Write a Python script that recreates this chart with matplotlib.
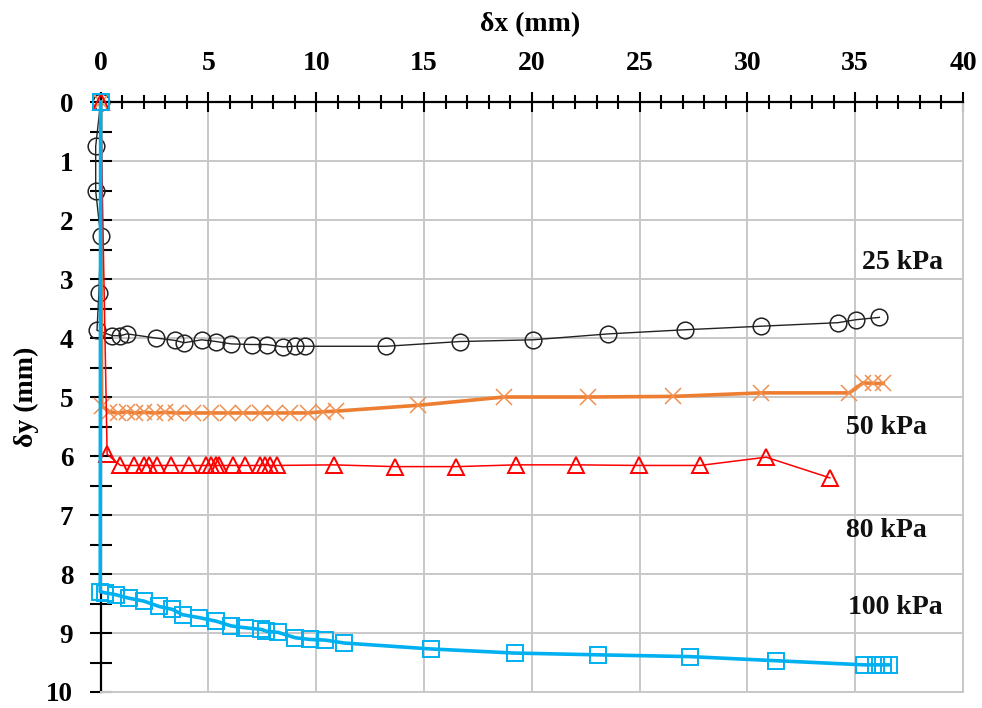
import matplotlib
matplotlib.use("Agg")
import matplotlib.pyplot as plt
from matplotlib.ticker import MultipleLocator

# ---- data ----
p25_x = [0, -0.23, -0.23, 0.0, -0.08, -0.17, 0.53, 0.92, 1.23, 2.55, 3.44, 3.88, 4.69, 5.36,
         6.06, 7.0, 7.7, 8.47, 9.02, 9.49, 13.25, 16.65, 20.07, 23.55, 27.1, 30.64, 34.2, 35.03, 36.12]
p25_y = [0, 0.75, 1.51, 2.27, 3.23, 3.87, 3.96, 3.96, 3.93, 4.0, 4.04, 4.08, 4.03, 4.06,
         4.1, 4.11, 4.11, 4.15, 4.14, 4.14, 4.14, 4.06, 4.03, 3.93, 3.86, 3.8, 3.74, 3.69, 3.65]

p50_x = [0, 0.05, 0.4, 0.8, 1.2, 1.6, 2.0, 2.5, 3.0, 3.5, 4.3, 5.1, 5.9, 6.6, 7.4, 8.1, 8.8,
         9.6, 10.3, 10.9, 14.74, 18.72, 22.6, 26.55, 30.64, 34.72, 35.37, 35.84, 36.3]
p50_y = [0, 5.15, 5.25, 5.27, 5.25, 5.27, 5.26, 5.27, 5.26, 5.27, 5.27, 5.27, 5.27, 5.27, 5.27,
         5.27, 5.27, 5.27, 5.25, 5.24, 5.14, 5.0, 5.0, 4.99, 4.93, 4.93, 4.76, 4.77, 4.77]

p80_x = [0, 0.3, 0.92, 1.54, 2.01, 2.24, 2.63, 3.26, 4.11, 4.89, 5.12, 5.36, 5.51, 6.14, 6.68,
         7.38, 7.62, 7.85, 8.16, 10.81, 13.64, 16.5, 19.26, 22.06, 24.95, 27.8, 30.87, 33.82]
p80_y = [0, 5.97, 6.16, 6.16, 6.16, 6.16, 6.16, 6.16, 6.16, 6.16, 6.16, 6.16, 6.16, 6.16, 6.16,
         6.16, 6.16, 6.16, 6.16, 6.15, 6.18, 6.18, 6.15, 6.15, 6.16, 6.16, 6.02, 6.37]

p100_x = [0, -0.02, 0.22, 0.69, 1.31, 2.01, 2.71, 3.33, 3.8, 4.58, 5.36, 6.06, 6.68, 7.46, 7.69,
          8.24, 9.02, 9.72, 10.42, 11.3, 15.31, 19.2, 23.08, 27.32, 31.34, 35.42, 35.97, 36.28, 36.57]
p100_y = [0, 8.30, 8.32, 8.35, 8.41, 8.46, 8.55, 8.6, 8.69, 8.74, 8.8, 8.88, 8.91, 8.94, 8.97,
          8.99, 9.08, 9.11, 9.12, 9.17, 9.27, 9.34, 9.37, 9.40, 9.47, 9.54, 9.54, 9.54, 9.54]

labels = ["25 kPa", "50 kPa", "80 kPa", "100 kPa"]
label_pos = [(37.2, 2.72), (36.45, 5.51), (36.45, 7.26), (36.84, 8.57)]

plt.rcParams['font.family'] = ['Liberation Serif', 'DejaVu Serif']
plt.rcParams['font.weight'] = 'bold'

fig = plt.figure(figsize=(9.82, 7.08), dpi=100)
ax = fig.add_axes([0.1025, 0.0226, 0.8782, 0.8333])

ax.plot(p25_x, p25_y, color='#222222', lw=1.0, marker='o', ms=12, mfc='none',
        mec='#222222', mew=1.1, clip_on=False, zorder=3)
ax.plot(p50_x, p50_y, color='#ED7D31', lw=2.6, marker='x', ms=12, mew=1.1,
        mec='#F09050', clip_on=False, zorder=4)
ax.plot(p80_x, p80_y, color='#FF0000', lw=1.1, marker='^', ms=11, mfc='none',
        mec='#FF0000', mew=1.4, clip_on=False, zorder=5)
ax.plot(p100_x, p100_y, color='#00B0F0', lw=2.6, marker='s', ms=11, mfc='none',
        mec='#00B0F0', mew=1.4, clip_on=False, zorder=6)

for t, (x, y) in zip(labels, label_pos):
    ax.text(x, y, t, ha='center', va='center', fontsize=20, fontweight='bold', color='#111111')

ax.set_xlim(0, 40)
ax.set_ylim(10, 0)
ax.xaxis.set_ticks_position('top')
ax.xaxis.set_label_position('top')
ax.xaxis.set_major_locator(MultipleLocator(5))
ax.xaxis.set_minor_locator(MultipleLocator(1))
ax.yaxis.set_major_locator(MultipleLocator(1))
ax.yaxis.set_minor_locator(MultipleLocator(0.5))

ax.tick_params(axis='x', which='major', direction='inout', length=15, width=1.5,
               labelsize=20, pad=11)
ax.tick_params(axis='x', which='minor', direction='inout', length=10, width=1.5)
ax.tick_params(axis='y', which='both', direction='inout', length=15.5, width=1.5,
               labelsize=19.5, pad=12)

ax.grid(True, which='major', color='#C8C8C8', lw=1.4)
ax.set_axisbelow(True)

for s in ['top', 'left']:
    ax.spines[s].set_color('black')
    ax.spines[s].set_linewidth(1.6)
for s in ['bottom', 'right']:
    ax.spines[s].set_color('#C8C8C8')
    ax.spines[s].set_linewidth(1.4)

fig.text(0.540, 0.965, "δx (mm)", ha='center', va='center', fontsize=20, fontweight='bold')
fig.text(0.027, 0.44, "δy (mm)", ha='center', va='center', rotation=90,
         fontsize=20, fontweight='bold')

fig.savefig("out.png", dpi=100)
